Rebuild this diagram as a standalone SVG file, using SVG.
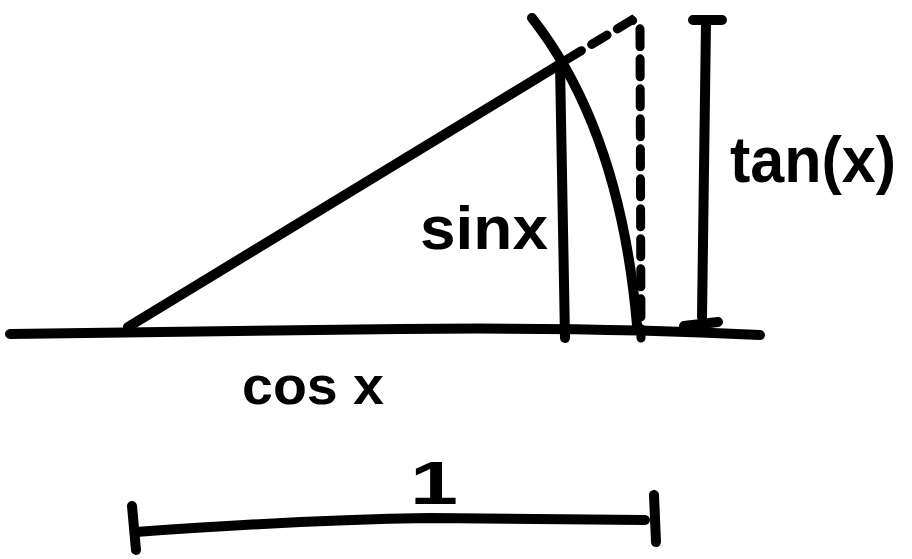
<svg xmlns="http://www.w3.org/2000/svg" width="912" height="559" viewBox="0 0 912 559">
<style>
.s{fill:none;stroke:#000;stroke-width:10;stroke-linecap:round;stroke-linejoin:round}
.d{fill:none;stroke:#000;stroke-width:9;stroke-linecap:round;stroke-dasharray:18 12}
.t{font-family:"Liberation Sans",Arial,sans-serif;font-weight:bold;fill:#000}
</style>
<rect width="912" height="559" fill="#fff"/>
<g id="connectors">
<path class="s" d="M10 334 Q 200 332 400 329 Q 600 327 760 335"/>
<path class="s" d="M128 327 L562 63"/>
<path class="s" d="M560 64 Q 562 200 565 338"/>
<path class="s" d="M532 18 Q 620 130 637 325"/>
<path class="d" d="M566 60 L632 20 L640 26 L641 338"/>
<path class="s" d="M693 20 L722 20 M706 22 L702 317 M684 326 L718 322"/>
<path class="s" d="M132 506 L136 550 M136 532 Q 300 520 430 518 L 645 520 M654 495 L656 542"/>
</g>
<g id="label-sin"><text class="t" x="420" y="249" font-size="62" textLength="128" lengthAdjust="spacingAndGlyphs">sinx</text></g>
<g id="label-tan"><text class="t" x="730" y="182" font-size="64" textLength="166" lengthAdjust="spacingAndGlyphs">tan(x)</text></g>
<g id="label-cos"><text class="t" x="242" y="404" font-size="54" textLength="142" lengthAdjust="spacingAndGlyphs">cos x</text></g>
<g id="label-one"><text class="t" x="410" y="504" font-size="62" textLength="48" lengthAdjust="spacingAndGlyphs">1</text></g>
</svg>
